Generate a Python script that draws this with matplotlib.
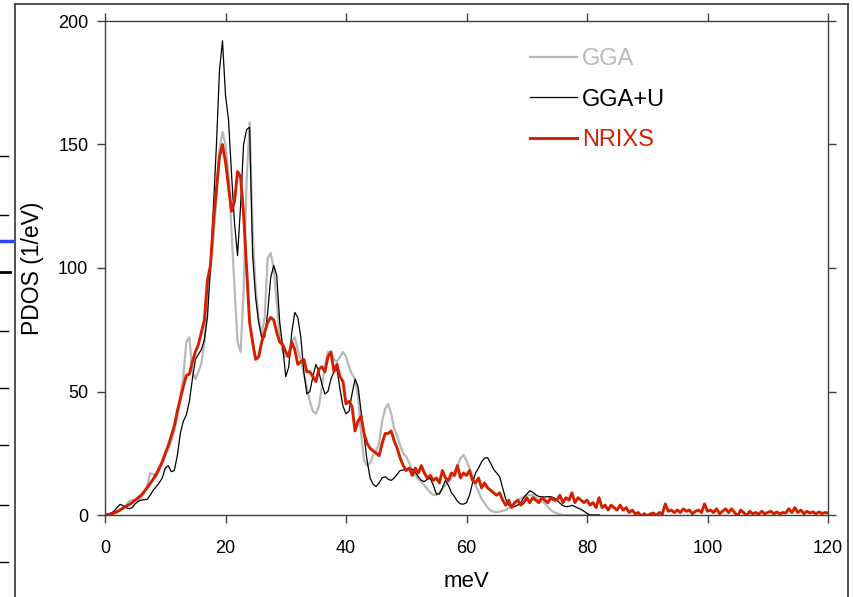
import matplotlib
matplotlib.use("Agg")
import matplotlib.pyplot as plt
from matplotlib.lines import Line2D
import numpy as np

plt.rcParams["font.family"] = ["Liberation Sans", "DejaVu Sans"]

# energy grids (meV), 0.5 meV steps
e_calc = np.arange(0, 82.01, 0.5)
e_nrixs = np.arange(0, 120.01, 0.5)

# GGA (gray), values
gga = [
    0, 0.2, 0.5, 1, 1.5, 2.2, 3, 4, 5.5, 6,
    6.2, 6, 7, 9, 12, 16.9, 16.5, 15.5, 18, 21,
    24, 27, 30, 34, 40, 48, 56, 70, 72, 58,
    55, 58, 61.4, 70, 88, 100, 112, 128, 148, 155,
    150, 138, 115, 92, 70, 66, 90, 135, 159, 115,
    92, 80, 73, 80, 104, 106, 100, 86, 73, 66,
    64, 66, 70, 72, 67, 63, 57, 52, 46, 42,
    41, 44, 52, 60, 66, 66, 63, 62, 64, 66,
    64, 60, 57, 55, 48, 33, 22, 20, 21, 24.3,
    26, 29, 38, 43, 45, 41, 35, 32, 28, 25,
    23.6, 21, 18, 16, 14.5, 13.5, 12, 10.5, 9, 8.2,
    8.1, 9, 10.5, 12, 13.5, 15, 17.5, 20, 23, 24.3,
    22, 19, 15.5, 12, 9.5, 6.5, 4.8, 3, 1.8, 1.3,
    1.2, 1.4, 1.7, 2, 2.7, 3.8, 5, 6, 6.7, 7.5,
    8, 8.1, 8.1, 7.2, 6, 5.5, 4.8, 3.2, 2, 1.2,
    0.7, 0.3, 0, 0, 0, 0, 0, 0, 0, 0,
    0, 0, 0, 0, 0,
]

# GGA+U (black)
ggau = [
    0, 0.3, 0.8, 1.5, 3, 4.3, 3.8, 3, 2.5, 3,
    4.5, 5.5, 6, 6.2, 6.3, 8, 10, 11.5, 13, 15,
    19, 20, 17.5, 18, 24, 33, 38, 40.5, 46, 55,
    63, 65, 67, 71, 80, 100, 125, 150, 180, 192,
    170, 160, 138, 118, 105, 125, 150, 156, 157, 105,
    88, 78, 72, 72, 82, 96, 101, 97, 78, 68,
    56, 60, 74, 82, 80, 72, 58, 49, 50, 56,
    61, 58, 53, 49, 50, 55, 58, 59, 51, 44,
    41, 42, 49, 55, 52, 42, 32, 22, 15, 12.5,
    11.5, 13, 15, 15.5, 14.5, 14, 15, 16.5, 18, 18.2,
    18.5, 18.9, 18.5, 17.3, 15.5, 14, 13.5, 14.5, 14.8, 12,
    8.5, 8.5, 11, 14, 12, 9, 7.5, 5.5, 4.5, 4.4,
    5, 8, 13, 17, 19, 21.5, 23, 23.2, 21, 18.5,
    17, 15.5, 11, 6.5, 4, 3.4, 3.4, 4, 5, 7,
    8.5, 9.8, 9.2, 8.2, 7.5, 7.4, 7.3, 7.4, 7.4, 7,
    6, 4.8, 3.8, 3.4, 3.5, 3.9, 3.4, 2.8, 2.3, 1.5,
    0.7, 0, 0, 0, 0,
]

# NRIXS (red, measured)
nrixs = [
    0, 0.2, 0.4, 0.8, 1.3, 2, 2.8, 3.5, 4.2, 5.0,
    6, 7, 8, 9.5, 11, 12.8, 14.5, 16.5, 19, 21.5,
    25, 28, 32, 36, 42, 47, 52, 56.5, 57, 62,
    66, 69, 74, 79, 95, 101, 119, 132, 145, 150,
    143, 133, 123, 127, 139, 137, 122, 100, 78, 70,
    63, 64, 70, 74, 78, 80, 79, 74, 70, 69,
    66, 64, 70, 67, 61, 62, 63, 58, 58, 56,
    54, 59, 60, 58, 64, 66, 58, 61, 56, 54,
    45, 46, 44, 34, 38, 40, 33, 29, 27, 26,
    25, 24, 29, 33, 33, 34, 30, 27, 23, 20,
    18, 19, 16, 19, 17, 20, 17, 15, 16, 14,
    15, 13, 18, 15, 14, 17, 16, 20, 15, 17,
    16, 18, 14, 13, 15, 11, 13, 11, 10, 9,
    8, 9, 6, 4, 6, 3, 5, 6, 4, 5,
    7, 5, 7, 6, 5, 7, 6, 5, 7, 6,
    6, 8, 5, 7, 6, 9, 5, 7, 6, 5,
    6, 4, 5, 3, 7, 3, 4, 2, 4, 3,
    2, 4, 2, 3, 1, 2, 0.5, 1, -0.5, 0.5,
    -0.3, 0.4, 0.8, -0.2, 1, 0.5, 4.5, 1.5, 2, 1,
    2, 1, 2.5, 1.5, 2, 0.5, 1.5, 2, 1, 4.5,
    1.5, 2, 1, 2.5, 0.5, 1.5, 2.5, 1, 2.5, 1,
    -0.5, 2, 1, -0.3, 1.5, 0.5, 1, 0.3, 1.5, 0.5,
    1, 1.5, 0.5, 1.2, 0.5, 1, 0.8, 2.5, 1, 3,
    1, 2, 0.5, 1.5, 0.8, 1.3, 0.5, 1.2, 0.6, 1,
    0.8,
]

W, H = 854, 597
fig = plt.figure(figsize=(W / 100, H / 100), dpi=100)
ax = fig.add_axes([105 / W, 1 - 515 / H, 723 / W, 494 / H])

ax.plot(e_calc, gga, color="#b8b8b8", lw=1.6, label="GGA")
ax.plot(e_calc, ggau, color="black", lw=0.9, label="GGA+U")
ax.plot(e_nrixs, nrixs, color="#d42000", lw=2.1, label="NRIXS")

ax.set_xlim(0, 120)
ax.set_ylim(0, 200)
ax.set_xticks([0, 20, 40, 60, 80, 100, 120])
ax.set_yticks([0, 50, 100, 150, 200])
ax.tick_params(direction="out", length=6, width=1, color="#404040",
               labelsize=13, top=True, right=True)
ax.tick_params(axis="x", pad=12)
ax.tick_params(axis="y", pad=6)
for s in ax.spines.values():
    s.set_color("#404040")
    s.set_linewidth(1)

ax.set_xlabel("meV", fontsize=16, labelpad=10)
ax.set_ylabel("PDOS (1/eV)", fontsize=16.5, labelpad=10)

ax.legend(loc="upper left", bbox_to_anchor=(0.588, 0.945), frameon=False,
          fontsize=17, handlelength=2.0, handletextpad=0.2,
          labelspacing=0.78, borderpad=0, borderaxespad=0,
          labelcolor="linecolor")

# remains of the neighbouring panel and outer frame
def px(x, y):
    return x / W, 1 - y / H

def fline(x0, y0, x1, y1, **kw):
    (a, b), (c, d) = px(x0, y0), px(x1, y1)
    fig.add_artist(Line2D([a, c], [b, d], transform=fig.transFigure, **kw))

fline(15, 4, 15, 597, color="#333333", lw=1.2)
fline(15, 4, 848, 4, color="#333333", lw=1.2)
fline(848, 4, 848, 597, color="#333333", lw=1.2)
for yy in [156, 215, 331, 388, 445, 505, 562]:
    fline(0, yy, 8, yy, color="black", lw=1.0)
fline(0, 272, 10, 272, color="black", lw=2.0)
fline(0, 241, 12, 241, color="#2a45f0", lw=2.5)

fig.savefig("out.png", dpi=100)
